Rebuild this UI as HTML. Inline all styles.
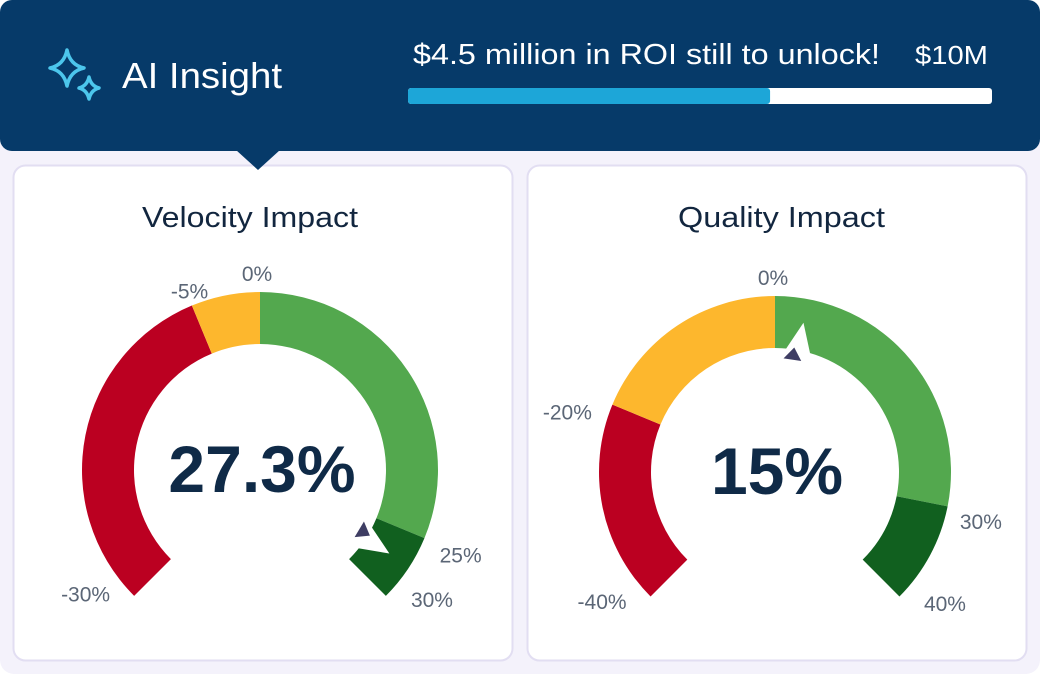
<!DOCTYPE html>
<html><head><meta charset="utf-8"><style>
html,body{margin:0;padding:0;width:1040px;height:674px;overflow:hidden;background:#fff;font-family:"Liberation Sans",sans-serif}
</style></head><body>
<svg width="1040" height="674" viewBox="0 0 1040 674" xmlns="http://www.w3.org/2000/svg" style="position:absolute;left:0;top:0">
<rect x="0" y="100" width="1040" height="574" rx="14" fill="#f4f2fb"/>
<rect x="13.5" y="165.5" width="499" height="495" rx="12" fill="#fff" stroke="#e2def2" stroke-width="2"/>
<rect x="527.5" y="165.5" width="499" height="495" rx="12" fill="#fff" stroke="#e2def2" stroke-width="2"/>
<g>
<rect x="0" y="0" width="1040" height="151" rx="12" fill="#063a69"/>
<polygon points="236,150 280,150 258,170" fill="#063a69"/>
</g>
<g fill="none" stroke="#4cc6ec" stroke-width="3.5" stroke-linejoin="round">
<path d="M67,50 Q70,65 84,68 Q70,71 67,86 Q64,71 50,68 Q64,65 67,50 Z"/>
<path d="M89,77 Q91,86 99,88 Q91,90 89,99 Q87,90 79,88 Q87,86 89,77 Z"/>
</g>
<text x="122" y="88" font-size="36" fill="#fff" textLength="160" lengthAdjust="spacingAndGlyphs">AI Insight</text>
<text x="413" y="64" font-size="29" fill="#fff" textLength="467" lengthAdjust="spacingAndGlyphs">$4.5 million in ROI still to unlock!</text>
<text x="915" y="64" font-size="26" fill="#fff" textLength="73" lengthAdjust="spacingAndGlyphs">$10M</text>
<rect x="408" y="88" width="584" height="16" rx="3" fill="#fff"/>
<rect id="roiFill" x="408" y="88" width="362" height="16" rx="3" fill="#1da6d8"/>
<text x="142" y="227" font-size="29" fill="#12263f" textLength="216" lengthAdjust="spacingAndGlyphs">Velocity Impact</text>
<text x="678" y="227" font-size="29" fill="#12263f" textLength="207" lengthAdjust="spacingAndGlyphs">Quality Impact</text>
<g id="gauges"></g>
</svg>
<script>
const gaugeNames = ["velocity", "quality"];
const gaugeMin = [-30, -40];
const gaugeMax = [30, 40];
const bandStarts = [[-30, -5, 0, 25], [-40, -20, 0, 30]];
const bandEnds = [[-5, 0, 25, 30], [-20, 0, 30, 40]];
const bandColors = ["#bb0021", "#fdb72d", "#53a84e", "#11601f"];
const tickValues = [[-30, -5, 0, 25, 30], [-40, -20, 0, 30, 40]];
const tickLabels = [["-30%", "-5%", "0%", "25%", "30%"], ["-40%", "-20%", "0%", "30%", "40%"]];
const displayValues = ["27.3%", "15%"];
const markerValues = [27.3, 3.2];
const roiProgress = 6.2, roiTarget = 10;

const geo = [{cx:260, cy:470, ro:178, ri:126, tickR:[200,205,193,215,205], tickOff:[[-33,-18],[8,10],[-3,-4],[2,2],[27,-16]]},
             {cx:775, cy:472, ro:176, ri:124, tickR:[205,215,193,215,205], tickOff:[[-28,-16],[-9,22],[-2,-2],[-5,7],[25,-14]]}];
const NS = "http://www.w3.org/2000/svg";
const root = document.getElementById('gauges');
document.getElementById('roiFill').setAttribute('width', 584*roiProgress/roiTarget);
function ang(g, v){ return (v - gaugeMin[g])/(gaugeMax[g]-gaugeMin[g])*270 - 135; }
function pt(g, a, r){ const t=a*Math.PI/180; return [geo[g].cx + r*Math.sin(t), geo[g].cy - r*Math.cos(t)]; }
function mk(tag, attrs){ const e=document.createElementNS(NS, tag); for(const k in attrs) e.setAttribute(k, attrs[k]); return e; }
for (let g=0; g<2; g++){
  const G = geo[g];
  for (let b=0; b<bandStarts[g].length; b++){
    const a0=ang(g,bandStarts[g][b]), a1=ang(g,bandEnds[g][b]);
    const p0=pt(g,a0,G.ro), p1=pt(g,a1,G.ro), p2=pt(g,a1,G.ri), p3=pt(g,a0,G.ri);
    const large = (a1-a0)>180?1:0;
    const d=`M${p0} A${G.ro},${G.ro} 0 ${large} 1 ${p1} L${p2} A${G.ri},${G.ri} 0 ${large} 0 ${p3} Z`;
    const el = mk('path', {d:d, fill:bandColors[b]});
    
    
    root.appendChild(el);
  }
  for (let t=0; t<tickValues[g].length; t++){
    const a=ang(g,tickValues[g][t]);
    const p=pt(g,a,G.tickR[t]);
    const el = mk('text', {x:p[0]+G.tickOff[t][0], y:p[1]+8+G.tickOff[t][1], 'font-size':21, fill:'#5b6676', 'text-anchor':'middle'});
    el.textContent = tickLabels[g][t];
    
    
    root.appendChild(el);
  }
  const val = mk('text', {x:G.cx+2, y:G.cy+22, 'font-size':66, 'font-weight':'bold', fill:'#0f2a47', 'text-anchor':'middle'});
  val.textContent = displayValues[g];
  
  
  root.appendChild(val);
  const a = ang(g, markerValues[g]);
  const tip=pt(g,a,G.ri+28), l=pt(g,a-9,G.ri-12), r=pt(g,a+9,G.ri-12);
  const notch = mk('polygon', {points:`${tip} ${l} ${r}`, fill:'#fff'});
  
  
  root.appendChild(notch);
  const ptr = mk('polygon', {points:`${pt(g,a-2,G.ri+2)} ${pt(g,a-6.5,G.ri-10)} ${pt(g,a+2.5,G.ri-10)}`, fill:'#3e3d63'});
  
  
  root.appendChild(ptr);
}
</script>
</body></html>
